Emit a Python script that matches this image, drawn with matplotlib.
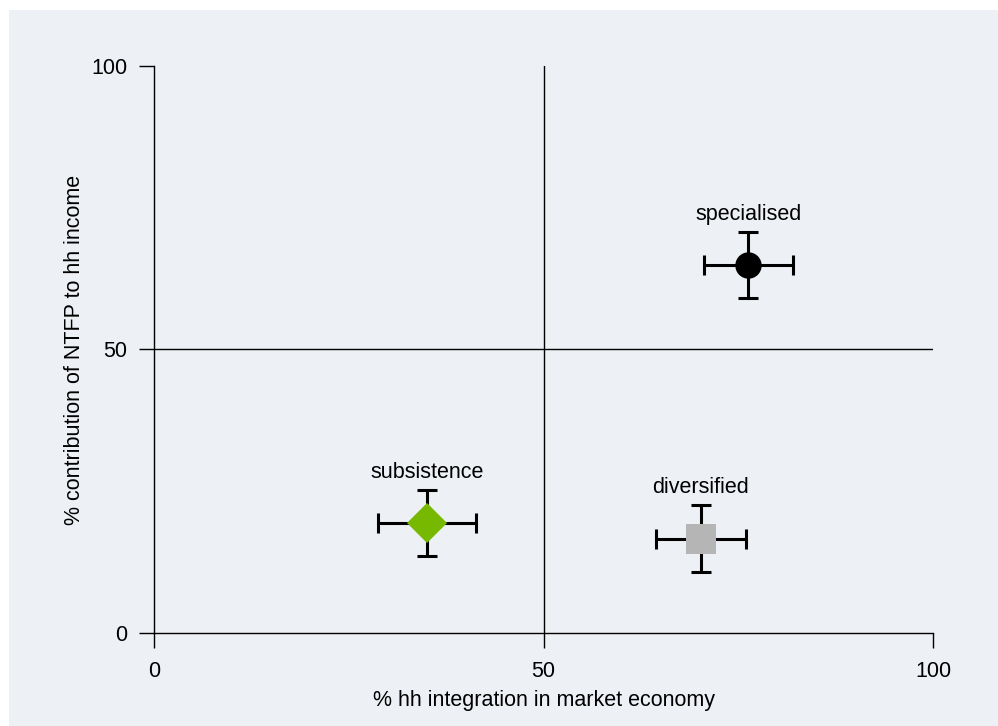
import matplotlib.pyplot as plt
from matplotlib.patches import Rectangle

plt.rcParams['font.family'] = ['Liberation Sans', 'DejaVu Sans']

# household types: market integration (x), NTFP share of income (y), with error
names = ["specialised", "subsistence", "diversified"]
x_vals = [76.3, 35.0, 70.2]
y_vals = [64.9, 19.4, 16.6]
x_err = [5.7, 6.3, 5.8]
y_err = [5.8, 5.9, 5.9]
markers = ["o", "D", "s"]
colours = ["#000000", "#76b900", "#b5b5b5"]
msizes = [19, 20, 21]

ticks = [0, 50, 100]

fig = plt.figure(figsize=(9.98, 7.26), dpi=100, facecolor="white")
fig.patches.append(Rectangle((9 / 998, 0), 1, 1 - 10 / 726, transform=fig.transFigure,
                             facecolor="#edf0f5", edgecolor="none", zorder=-1))
ax = fig.add_axes([0.1543, 0.1281, 0.7806, 0.7810])
ax.set_facecolor("none")

ax.axvline(50, color="black", lw=1)
ax.axhline(50, color="black", lw=1)

for i in range(len(names)):
    ax.errorbar(x_vals[i], y_vals[i], xerr=x_err[i], yerr=y_err[i], fmt="none",
                ecolor="black", elinewidth=2.2, capsize=7.5, capthick=2.2, zorder=3)
    ax.plot(x_vals[i], y_vals[i], marker=markers[i], color=colours[i],
            markersize=msizes[i], markeredgewidth=0, linestyle="none", zorder=4)
    ax.annotate(names[i], (x_vals[i], y_vals[i] + y_err[i]), xytext=(0, 5),
                textcoords="offset points", ha="center", va="bottom", fontsize=15.5)

ax.set_xlim(0, 100)
ax.set_ylim(0, 100)
ax.set_xticks(ticks)
ax.set_yticks(ticks)
ax.tick_params(length=11, width=1, labelsize=15.5)
ax.tick_params(axis="x", pad=9)
ax.tick_params(axis="y", pad=8)
for s in ["top", "right"]:
    ax.spines[s].set_visible(False)
for s in ["left", "bottom"]:
    ax.spines[s].set_linewidth(1)

ax.set_xlabel("% hh integration in market economy", fontsize=15.5, labelpad=6)
ax.set_ylabel("% contribution of NTFP to hh income", fontsize=15.5, labelpad=5)

fig.savefig("out.png", dpi=100, facecolor="white")
